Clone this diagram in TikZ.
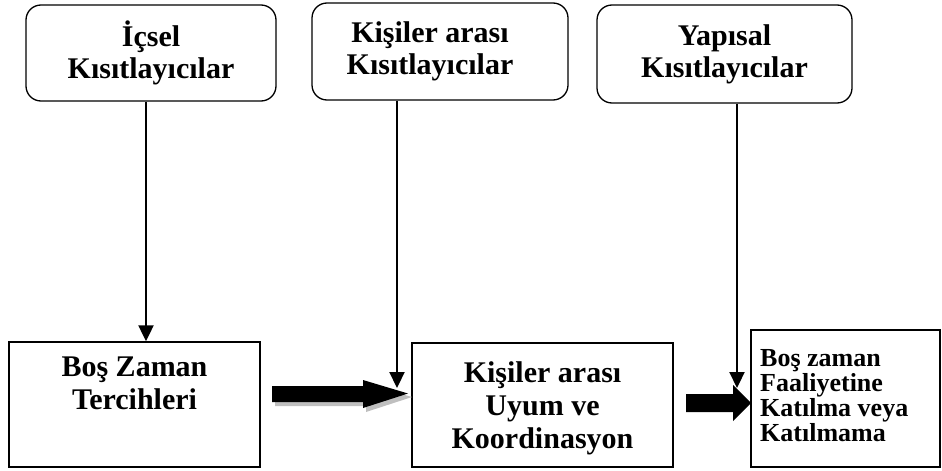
\documentclass[tikz,border=0pt]{standalone}
\usepackage{fontspec}
\setmainfont{Liberation Serif}
\usetikzlibrary{arrows.meta}
\begin{document}
\begin{tikzpicture}[x=1pt,y=-1pt,
  topbox/.style={draw=black,line width=1.3pt,rounded corners=15pt,align=center,inner sep=0pt,
    font=\fontsize{30}{32}\selectfont\bfseries},
  botbox/.style={draw=black,line width=1.4pt,inner sep=0pt},
  bigtext/.style={align=center,inner sep=0pt,font=\fontsize{30}{33}\selectfont\bfseries},
  thinarrow/.style={line width=2.2pt,-{Triangle[width=15pt,length=16pt]}},
  blockarrow/.style={fill=black,draw=none},
  shadowarrow/.style={fill=black!25,draw=none}]
\useasboundingbox (0,0) rectangle (942,471);
% top boxes
\node[topbox,minimum width=250pt,minimum height=96pt] (b1) at (151,53) {İçsel\\Kısıtlayıcılar};
\node[topbox,minimum width=256pt,minimum height=97pt] (b2) at (440,51.5) {\hspace*{-20pt}Kişiler arası\\\hspace*{-20pt}Kısıtlayıcılar};
\node[topbox,minimum width=255pt,minimum height=98pt] (b3) at (724.5,54) {Yapısal\\Kısıtlayıcılar};
% bottom boxes
\node[botbox,minimum width=251pt,minimum height=125pt] (b4) at (134.5,404.5) {};
\node[bigtext,anchor=north] (t4) at (134.5,357) {Boş Zaman\\Tercihleri};
\node[botbox,minimum width=261pt,minimum height=124pt] (b5) at (542.5,405) {};
\node[bigtext] (t5) at (542.5,408) {Kişiler arası\\Uyum ve\\Koordinasyon};
\node[botbox,minimum width=189pt,minimum height=137pt] (b6) at (845.5,398.5) {};
\node[align=left,font=\fontsize{26}{25}\selectfont\bfseries,anchor=north west,inner sep=0pt] (t6) at (760,349) {Boş zaman\\Faaliyetine\\Katılma veya\\Katılmama};
% thin arrows
\coordinate (e2) at (397,388);
\coordinate (e3) at (737,388);
\draw[thinarrow] ([xshift=-5pt]b1.south) -- ([xshift=-5pt]b1.south |- b4.north);
\draw[thinarrow] (b2.south -| e2) -- (e2);
\draw[thinarrow] (b3.south -| e3) -- (e3);
% block arrow 1 with shadow
\fill[shadowarrow] (275,390) -- (366,390) -- (366,384) -- (412,397) -- (366,412) -- (366,406) -- (275,406) -- cycle;
\fill[blockarrow] (272,386) -- (363,386) -- (363,380) -- (408,393.5) -- (363,408) -- (363,402) -- (272,402) -- cycle;
% block arrow 2
\fill[blockarrow] (686,394) -- (733,394) -- (733,385) -- (751,403) -- (733,421) -- (733,412) -- (686,412) -- cycle;
\end{tikzpicture}
\end{document}
